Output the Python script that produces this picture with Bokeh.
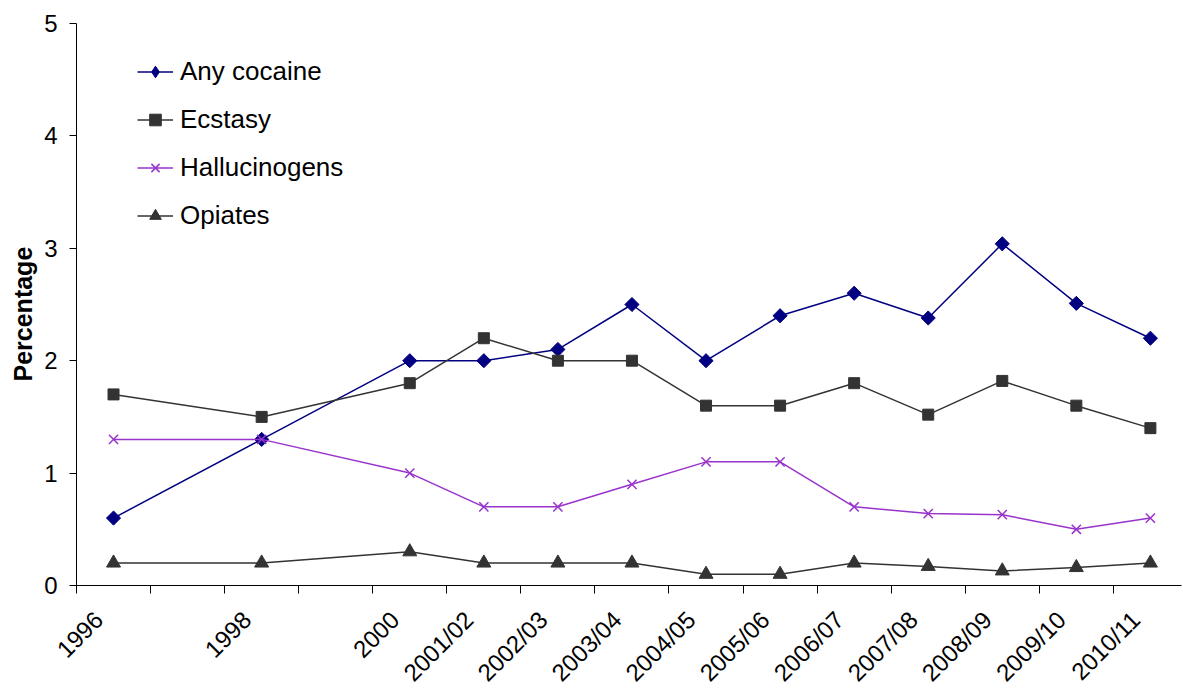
from math import pi
from bokeh.plotting import figure
from bokeh.models import Range1d, FixedTicker, Legend, LegendItem, Title
from bokeh.embed import file_html
from bokeh.resources import INLINE

# Category slots on the x axis (1997 and 1999 have no survey data)
slots = ["1996", "1997", "1998", "1999", "2000", "2001/02", "2002/03", "2003/04",
         "2004/05", "2005/06", "2006/07", "2007/08", "2008/09", "2009/10", "2010/11"]
years = ["1996", "1998", "2000", "2001/02", "2002/03", "2003/04", "2004/05",
         "2005/06", "2006/07", "2007/08", "2008/09", "2009/10", "2010/11"]

any_cocaine = [0.6, 1.3, 2.0, 2.0, 2.1, 2.5, 2.0, 2.4, 2.6, 2.38, 3.04, 2.51, 2.2]
ecstasy = [1.7, 1.5, 1.8, 2.2, 2.0, 2.0, 1.6, 1.6, 1.8, 1.52, 1.82, 1.6, 1.4]
hallucinogens = [1.3, 1.3, 1.0, 0.7, 0.7, 0.9, 1.1, 1.1, 0.7, 0.64, 0.63, 0.5, 0.6]
opiates = [0.2, 0.2, 0.3, 0.2, 0.2, 0.2, 0.1, 0.1, 0.2, 0.17, 0.13, 0.16, 0.2]

y_ticks = [0, 1, 2, 3, 4, 5]

FONT = "Liberation Sans"

xs = [slots.index(y) + 0.5 for y in years]
label_pos = [x - 0.2 for x in xs]   # rotated labels sit slightly left of the slot centre

p = figure(width=1183, height=698, output_backend="svg", toolbar_location=None,
           x_range=Range1d(0, 14.92), y_range=Range1d(0, 5),
           min_border_left=76, min_border_right=2, min_border_top=23, min_border_bottom=111)
p.outline_line_color = None
p.xgrid.grid_line_color = None
p.ygrid.grid_line_color = None
p.background_fill_color = "white"
p.border_fill_color = "white"

# x axis: tick marks at slot boundaries, labels at slot centres
xa = p.xaxis[0]
xa.ticker = FixedTicker(ticks=label_pos, minor_ticks=list(range(0, 16)))
xa.major_label_overrides = {x: y for x, y in zip(label_pos, years)}
xa.major_tick_line_color = None
xa.minor_tick_line_color = "#000000"
xa.minor_tick_out = 8
xa.minor_tick_in = 0
xa.axis_line_color = "#000000"
xa.major_label_orientation = pi / 4
xa.major_label_text_font = FONT
xa.major_label_text_font_size = "24px"
xa.major_label_text_color = "#000000"
xa.major_label_standoff = 22

ya = p.yaxis[0]
ya.ticker = FixedTicker(ticks=y_ticks, minor_ticks=[])
ya.major_tick_out = 7
ya.major_tick_in = 0
ya.major_tick_line_color = "#000000"
ya.axis_line_color = "#000000"
ya.major_label_text_font = FONT
ya.major_label_text_font_size = "24px"
ya.major_label_text_color = "#000000"
ya.major_label_standoff = 12

p.add_layout(Title(text="Percentage", align="left", offset=204, standoff=10,
                   text_font=FONT, text_font_style="bold", text_font_size="25px",
                   text_color="#000000"), "left")

series = [
    ("Any cocaine", any_cocaine, "#000080", "square", 10, pi / 4),
    ("Ecstasy", ecstasy, "#333333", "square", 11, 0),
    ("Hallucinogens", hallucinogens, "#9933CC", "x", 13, 0),
    ("Opiates", opiates, "#333333", "triangle", 14, 0),
]

items = []
for name, vals, col, mk, sz, ang in series:
    l = p.line(xs, vals, line_color=col, line_width=1.5)
    if mk == "x":
        m = p.scatter(xs, vals, marker=mk, size=sz, line_color=col, line_width=1.5)
    else:
        m = p.scatter(xs, vals, marker=mk, size=sz, angle=ang,
                      fill_color=col, line_color=col)
    rends = [l, m]
    if ang:
        # legend glyphs are drawn unrotated, so use a hidden diamond marker for the key
        key = p.scatter(xs[:1], vals[:1], marker="diamond", fill_color=col,
                        line_color=col, visible=False)
        rends = [l, key]
    items.append(LegendItem(label=name, renderers=rends))

leg = Legend(items=items, location=(61, 354), border_line_color=None,
             background_fill_alpha=0, padding=0, margin=0, spacing=17,
             glyph_width=36, glyph_height=29, label_height=29,
             label_standoff=7, label_text_font=FONT, label_text_font_size="26px",
             label_text_color="#000000", inactive_fill_alpha=0)
p.add_layout(leg)

open("out.html", "w").write(file_html(p, INLINE))
